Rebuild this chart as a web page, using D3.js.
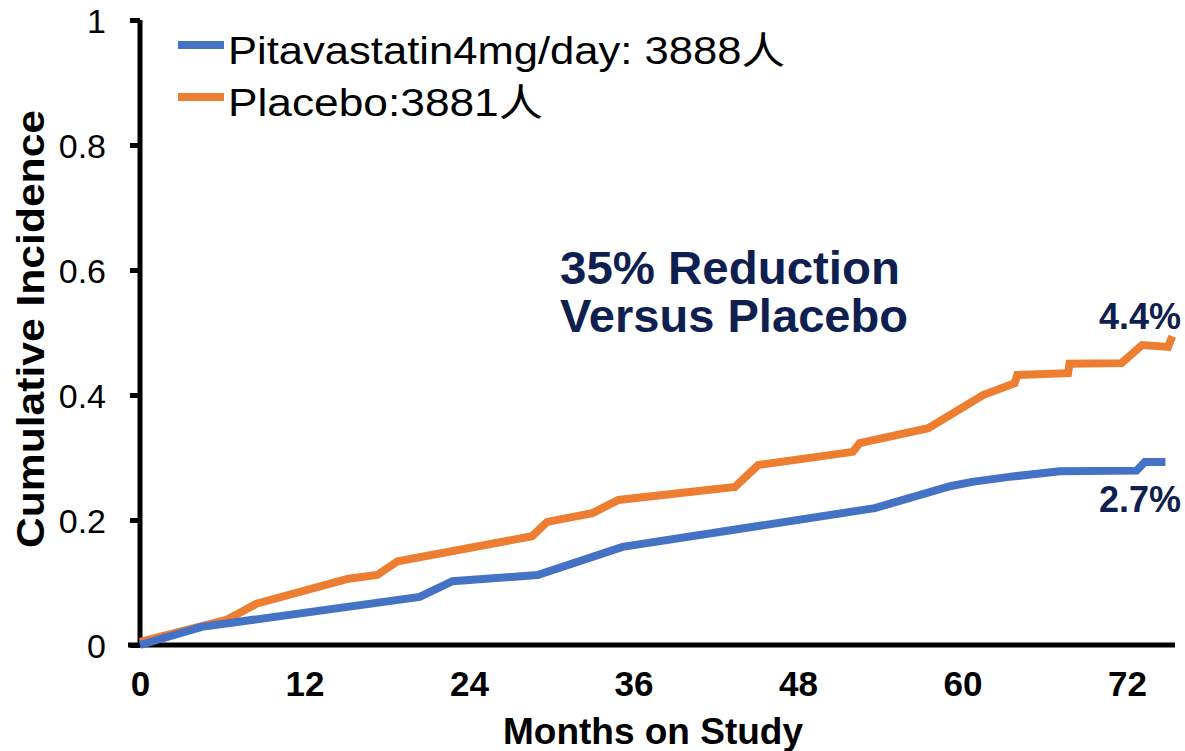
<!DOCTYPE html>
<html>
<head>
<meta charset="utf-8">
<script src="https://cdn.jsdelivr.net/npm/d3@7"></script>
<style>
  body { margin: 0; background: #fff; }
  svg { font-family: "Liberation Sans", Arial, "Noto Sans CJK SC", sans-serif; }
</style>
</head>
<body>
<div id="chart"></div>
<script>
// months and cumulative incidence
const pitaMonths = [0, 4.5, 20.4, 22.8, 29, 35.2, 53.6, 59.1, 60.7, 63.4, 67.1, 72.7, 73.3, 74.8];
const pitaValues = [0, 0.029, 0.077, 0.102, 0.112, 0.157, 0.219, 0.254, 0.261, 0.269, 0.278, 0.279, 0.293, 0.293];

const placMonths = [0, 4.5, 6.3, 8.5, 15.2, 17.3, 18.8, 28.6, 29.7, 33, 34.9, 43.4, 45.1, 52, 52.5, 57.5, 61.5, 63.8, 64.0, 67.7, 67.8, 71.6, 73.1, 75, 75.3];
const placValues = [0.005, 0.03, 0.04, 0.066, 0.106, 0.112, 0.134, 0.174, 0.197, 0.211, 0.232, 0.253, 0.288, 0.309, 0.323, 0.347, 0.40, 0.419, 0.432, 0.435, 0.45, 0.451, 0.48, 0.477, 0.494];

const xTicks = [0, 12, 24, 36, 48, 60, 72];
const yTicks = [0, 0.2, 0.4, 0.6, 0.8, 1];

const seriesNames = ["Pitavastatin4mg/day: 3888人", "Placebo:3881人"];
const colors = ["#4472C4", "#ED7D31"];
const navy = "#0f1f4f";

const W = 1185, H = 751;
const margin = {top: 20, right: 10, bottom: 106, left: 140};

const svg = d3.select("#chart").append("svg")
    .attr("width", W)
    .attr("height", H);

const x = d3.scaleLinear()
    .domain([0, 75.5])
    .range([margin.left, 1175]);

const y = d3.scaleLinear()
    .domain([0, 1])
    .range([H - margin.bottom, margin.top]);

// y axis
const yAxis = svg.append("g")
    .attr("transform", "translate(" + margin.left + ",0)")
    .call(d3.axisLeft(y).tickValues(yTicks).tickFormat(d3.format("~g")).tickSize(10).tickPadding(24));
yAxis.select(".domain").attr("stroke", "#000").attr("stroke-width", 5).attr("d", "M0," + y(0) + "V" + y(1));
yAxis.selectAll(".tick line").attr("stroke", "#000").attr("stroke-width", 5);
yAxis.selectAll("text").attr("font-size", 34).attr("fill", "#000").attr("dy", "0.36em");

// x axis
const xAxis = svg.append("g")
    .attr("transform", "translate(0," + y(0) + ")")
    .call(d3.axisBottom(x).tickValues(xTicks).tickSize(0).tickPadding(0));
xAxis.select(".domain").attr("stroke", "#000").attr("stroke-width", 5)
    .attr("d", "M" + (margin.left - 12) + ",0H" + x(75.5));
xAxis.selectAll("text")
    .attr("font-size", 35).attr("font-weight", "bold").attr("fill", "#000")
    .attr("dy", null).attr("y", 51);

// axis titles
svg.append("text")
    .attr("x", 653).attr("y", 744)
    .attr("text-anchor", "middle")
    .attr("font-size", 37).attr("font-weight", "bold")
    .text("Months on Study");

svg.append("text")
    .attr("transform", "translate(44," + 329 + ") rotate(-90)")
    .attr("text-anchor", "middle")
    .attr("font-size", 39).attr("font-weight", "bold")
    .attr("textLength", 438).attr("lengthAdjust", "spacingAndGlyphs")
    .text("Cumulative Incidence");

// lines
const line = d3.line()
    .x(d => x(d[0]))
    .y(d => y(d[1]));

const series = [
  d3.zip(placMonths, placValues),
  d3.zip(pitaMonths, pitaValues)
];
const seriesColors = [colors[1], colors[0]];

series.forEach((s, i) => {
  svg.append("path")
      .datum(s)
      .attr("fill", "none")
      .attr("stroke", seriesColors[i])
      .attr("stroke-width", 8)
      .attr("stroke-linejoin", "miter")
      .attr("d", line);
});

// legend
const legendWidths = [557, 315];
const legend = svg.append("g");
seriesNames.forEach((name, i) => {
  const ly = 45 + i * 52;
  legend.append("line")
      .attr("x1", 178).attr("x2", 224)
      .attr("y1", ly).attr("y2", ly)
      .attr("stroke", colors[i]).attr("stroke-width", 8);
  legend.append("text")
      .attr("x", 228).attr("y", ly + 19)
      .attr("font-size", 38)
      .attr("textLength", legendWidths[i]).attr("lengthAdjust", "spacingAndGlyphs")
      .text(name);
});

// annotations
svg.append("text")
    .attr("x", 560).attr("y", 284)
    .attr("font-size", 46).attr("font-weight", "bold").attr("fill", navy)
    .attr("textLength", 340).attr("lengthAdjust", "spacingAndGlyphs")
    .text("35% Reduction");
svg.append("text")
    .attr("x", 560).attr("y", 332)
    .attr("font-size", 46).attr("font-weight", "bold").attr("fill", navy)
    .attr("textLength", 348).attr("lengthAdjust", "spacingAndGlyphs")
    .text("Versus Placebo");

svg.append("text")
    .attr("x", 1181).attr("y", 329)
    .attr("text-anchor", "end")
    .attr("font-size", 36).attr("font-weight", "bold").attr("fill", navy)
    .text("4.4%");
svg.append("text")
    .attr("x", 1181).attr("y", 512)
    .attr("text-anchor", "end")
    .attr("font-size", 36).attr("font-weight", "bold").attr("fill", navy)
    .text("2.7%");
</script>
</body>
</html>
